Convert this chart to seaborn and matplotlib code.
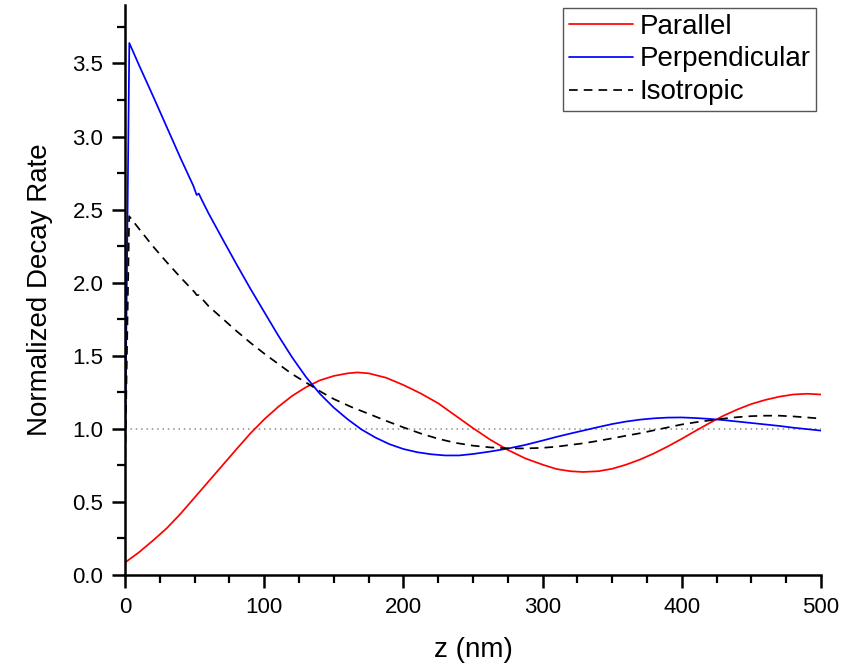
import numpy as np
import pandas as pd
import matplotlib
matplotlib.use("Agg")
import matplotlib.pyplot as plt
import seaborn as sns
from matplotlib.ticker import MultipleLocator

# ---- data ----
z_par = [0, 10, 20, 30, 40, 50, 60, 70, 80, 90, 100, 110, 120, 130, 140, 150, 160, 167,
         175, 187.5, 200, 212.5, 225, 237.5, 250, 262.5, 275, 287.5, 300, 310, 320, 329,
         340, 350, 360, 370, 380, 390, 400, 410, 420, 430, 440, 450, 460, 470, 480, 490,
         500]
y_par = [0.085, 0.155, 0.235, 0.32, 0.42, 0.53, 0.64, 0.75, 0.86, 0.968, 1.065, 1.15,
         1.225, 1.285, 1.332, 1.362, 1.38, 1.386, 1.38, 1.35, 1.30, 1.242, 1.175, 1.09,
         1.005, 0.925, 0.856, 0.798, 0.755, 0.725, 0.71, 0.705, 0.71, 0.727, 0.755, 0.79,
         0.832, 0.88, 0.932, 0.987, 1.04, 1.09, 1.133, 1.17, 1.198, 1.22, 1.235, 1.24,
         1.235]

z_perp = [0, 3.1, 10, 20, 30, 40, 49, 51.5, 53, 55, 60, 70, 80, 90, 100, 110, 120, 130,
          140, 150, 160, 170, 180, 190, 200, 210, 220, 230, 240, 250, 262.5, 275, 287.5,
          300, 310, 320, 330, 340, 350, 360, 370, 380, 390, 400, 410, 420, 430, 440, 450,
          460, 470, 480, 490, 500]
y_perp = [0.80, 3.64, 3.49, 3.28, 3.065, 2.85, 2.665, 2.60, 2.61, 2.57, 2.475, 2.30,
          2.128, 1.96, 1.80, 1.64, 1.49, 1.355, 1.24, 1.145, 1.065, 0.995, 0.94, 0.895,
          0.862, 0.84, 0.826, 0.818, 0.818, 0.828, 0.845, 0.865, 0.89, 0.92, 0.945, 0.968,
          0.99, 1.012, 1.033, 1.05, 1.063, 1.072, 1.077, 1.078, 1.074, 1.068, 1.06, 1.05,
          1.04, 1.03, 1.02, 1.008, 0.998, 0.988]

z_iso = [0, 3, 10, 20, 30, 40, 50, 51.5, 53, 60, 70, 80, 90, 100, 110, 120, 133, 141, 150,
         162.5, 175, 187.5, 200, 212.5, 225, 237.5, 250, 262.5, 275, 287.5, 300, 310, 320,
         330, 340, 350, 360, 370, 380, 390, 400, 410, 420, 430, 440, 450, 460, 470, 480,
         490, 500]
y_iso = [0.70, 2.455, 2.37, 2.25, 2.14, 2.035, 1.935, 1.915, 1.915, 1.84, 1.755, 1.67,
         1.59, 1.515, 1.445, 1.375, 1.30, 1.252, 1.204, 1.15, 1.103, 1.055, 1.01, 0.968,
         0.932, 0.904, 0.885, 0.873, 0.867, 0.866, 0.87, 0.878, 0.89, 0.902, 0.918, 0.935,
         0.953, 0.97, 0.99, 1.01, 1.03, 1.045, 1.058, 1.07, 1.08, 1.087, 1.09, 1.09, 1.085,
         1.078, 1.07]

ref_z = [0, 500]
ref_y = [1.0, 1.0]

x_ticks = [0, 100, 200, 300, 400, 500]
y_ticks = [0.0, 0.5, 1.0, 1.5, 2.0, 2.5, 3.0, 3.5]

# ---- style ----
sns.set_theme(style="ticks")
plt.rcParams['font.family'] = ['Liberation Sans', 'DejaVu Sans']
plt.rcParams['text.color'] = 'black'

fig = plt.figure(figsize=(8.44, 6.69), dpi=100)
ax = fig.add_axes([125/844, 1 - 575/669, (821 - 125)/844, (575 - 5)/669])

sns.lineplot(x=ref_z, y=ref_y, ax=ax, color="#8c8c8c", lw=1.1,
             linestyle=(0, (1, 2.5)), legend=False)
sns.lineplot(x=z_par, y=y_par, ax=ax, color="#ff0000", lw=1.25, label="Parallel",
             sort=False)
sns.lineplot(x=z_perp, y=y_perp, ax=ax, color="#0000ff", lw=1.25, label="Perpendicular",
             sort=False)
sns.lineplot(x=z_iso, y=y_iso, ax=ax, color="black", lw=1.25, label="Isotropic",
             linestyle=(0, (5, 3.5)), sort=False)

ax.set_xlim(0, 500)
ax.set_ylim(0, 3.9)
ax.set_xticks(x_ticks)
ax.set_xticklabels([str(v) for v in x_ticks])
ax.set_yticks(y_ticks)
ax.set_yticklabels([f"{v:.1f}" for v in y_ticks])
ax.xaxis.set_minor_locator(MultipleLocator(25))
ax.yaxis.set_minor_locator(MultipleLocator(0.25))

for s in ["top", "right"]:
    ax.spines[s].set_visible(False)
for s in ["left", "bottom"]:
    ax.spines[s].set_linewidth(1.8)
    ax.spines[s].set_color("black")
    ax.spines[s].set_zorder(5)

ax.tick_params(axis="both", which="major", direction="out", length=9.5, width=1.8,
               color="black", labelsize=16, labelcolor="black", pad=6)
ax.tick_params(axis="both", which="minor", direction="out", length=5.5, width=1.6,
               color="black")

ax.set_xlabel("z (nm)", fontsize=20, labelpad=14, color="black")
ax.set_ylabel("Normalized Decay Rate", fontsize=20, labelpad=14, color="black")

leg = ax.legend(loc="upper right", bbox_to_anchor=(816/844, 1 - 8/669),
                bbox_transform=fig.transFigure, fontsize=20, frameon=True,
                fancybox=False, edgecolor="#555555", framealpha=1,
                handlelength=2.3, handletextpad=0.25, labelspacing=0.25,
                borderpad=0.2, borderaxespad=0)
leg.get_frame().set_linewidth(1.0)
for t in leg.get_texts():
    t.set_color("black")

fig.savefig("out.png", dpi=100, facecolor="white")
